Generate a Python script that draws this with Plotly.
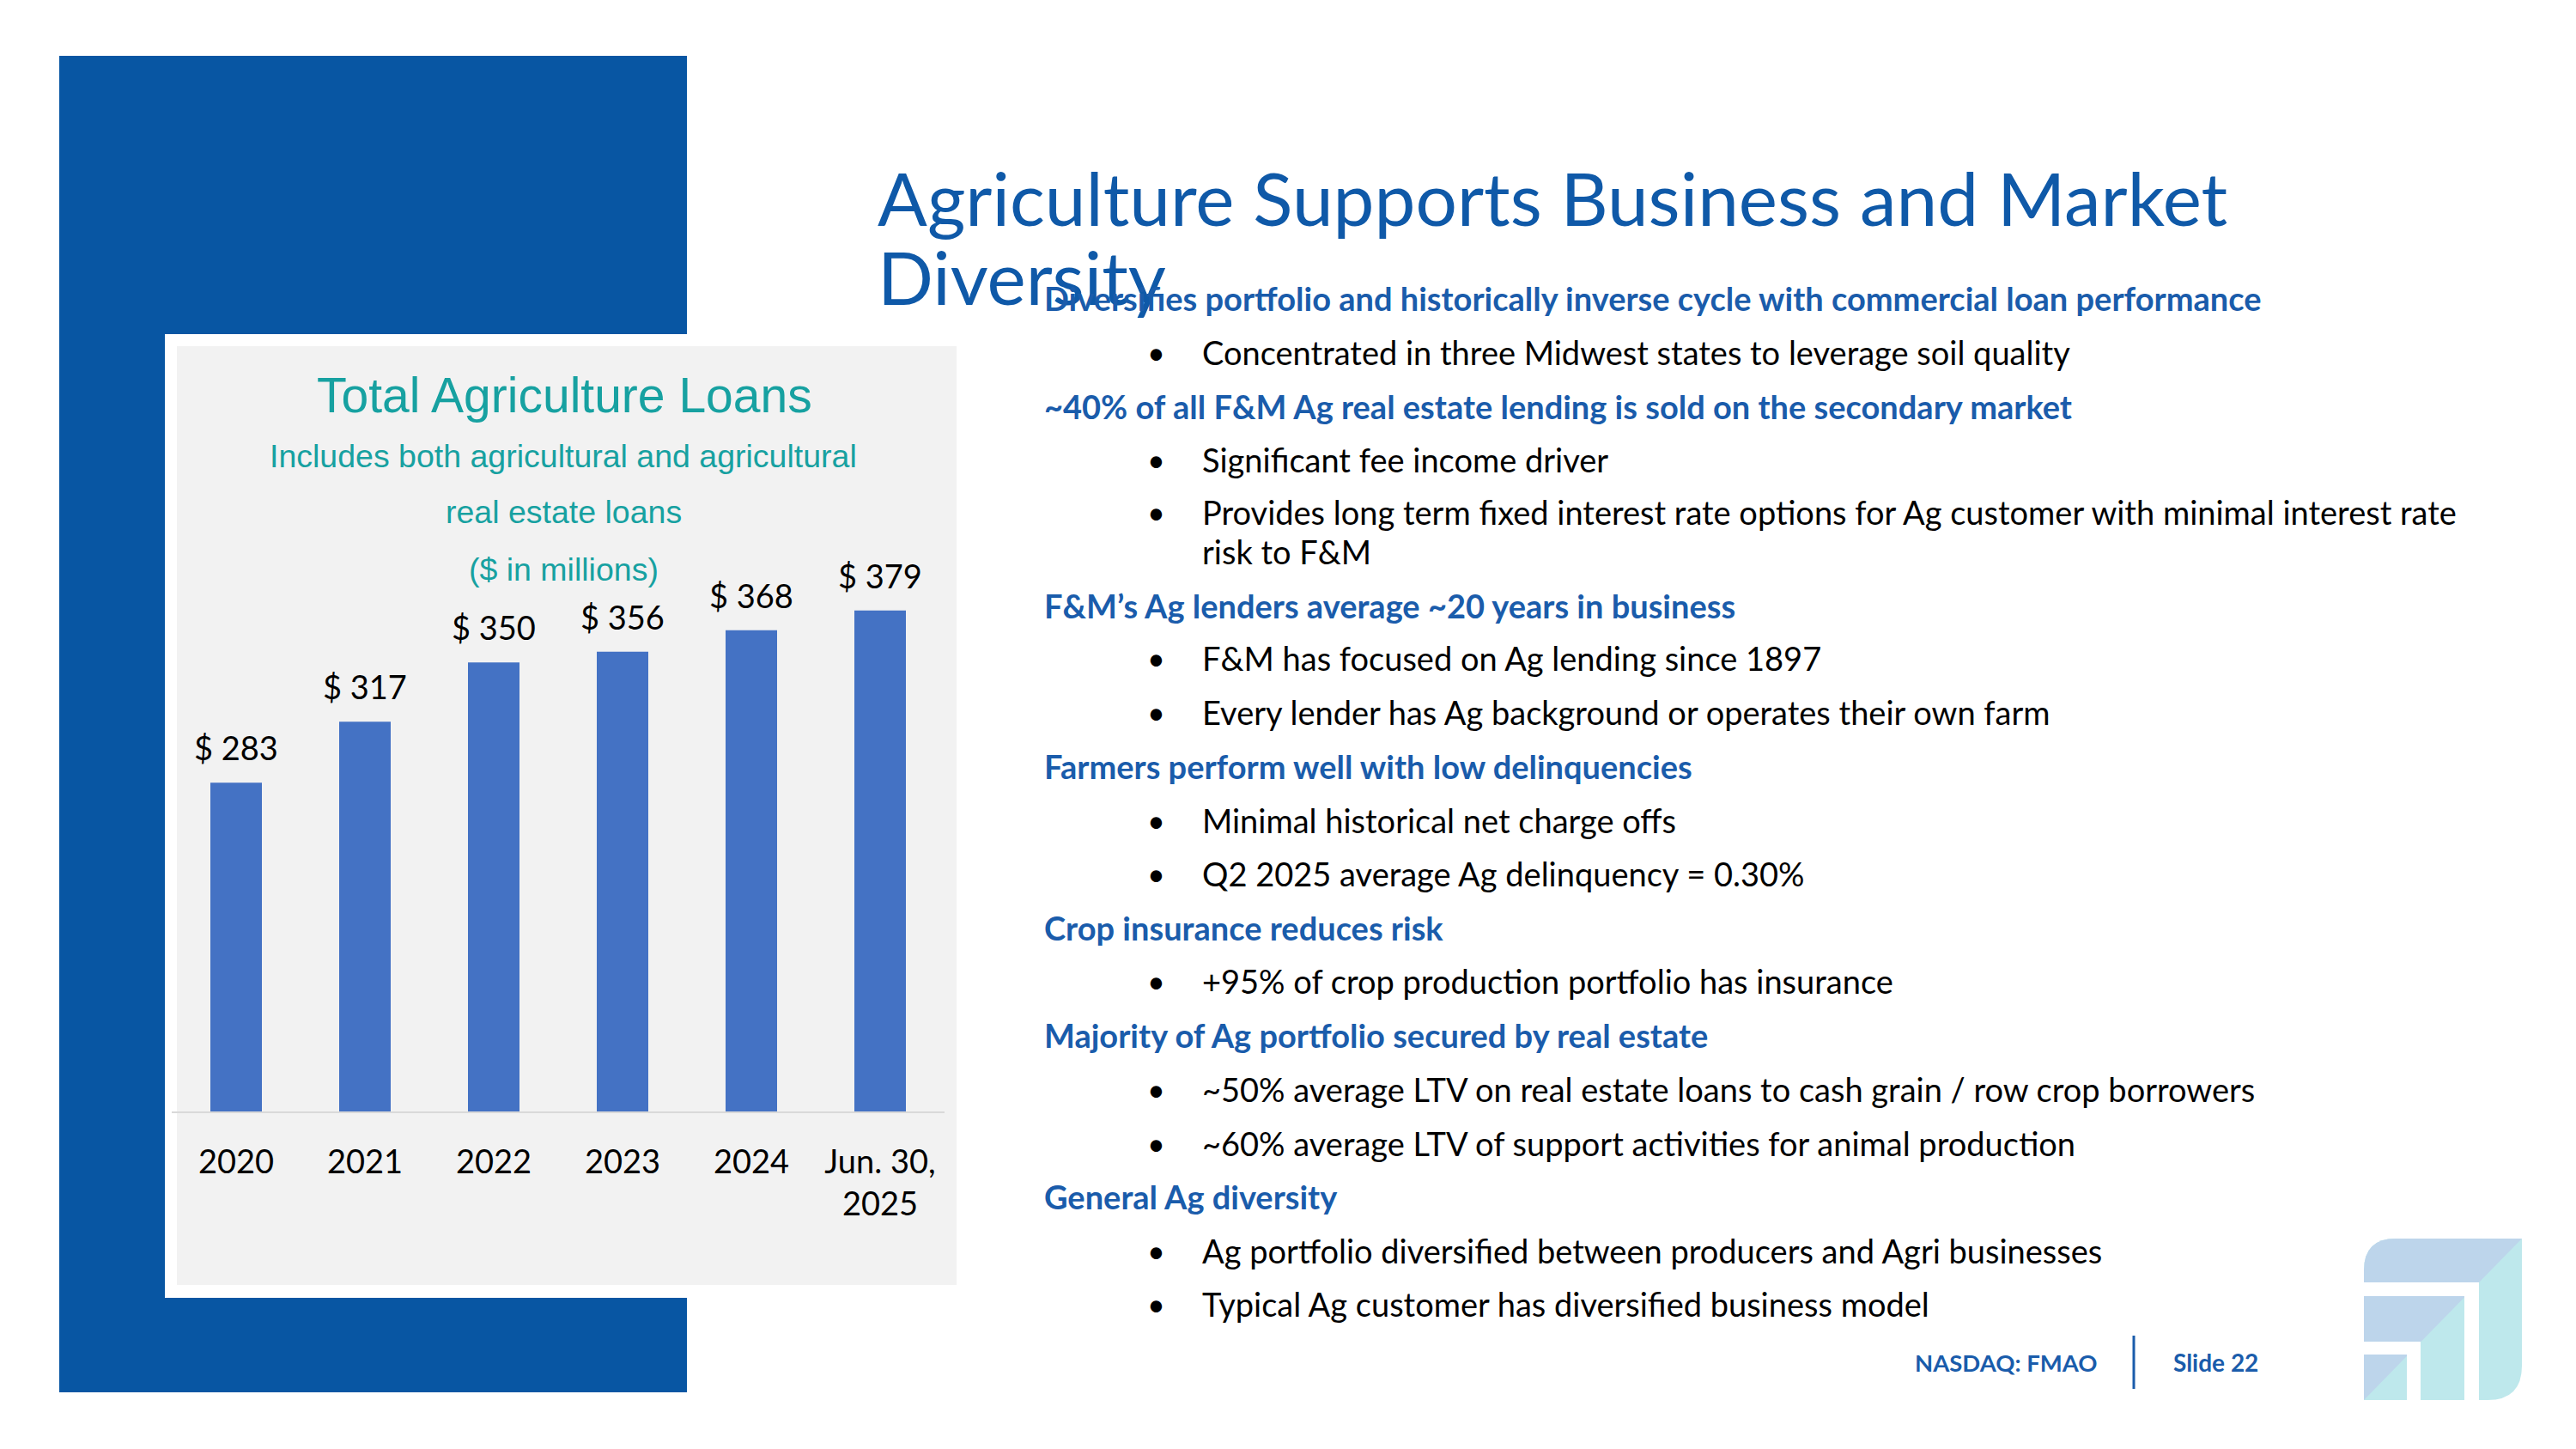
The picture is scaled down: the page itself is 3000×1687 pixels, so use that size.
import plotly.graph_objects as go

# ---------------- data ----------------
categories = ["2020", "2021", "2022", "2023", "2024", "Jun. 30, 2025"]
tick_labels = ["2020", "2021", "2022", "2023", "2024", "Jun. 30,<br>2025"]
loans = [283, 317, 350, 356, 368, 379]

chart_title = "Total Agriculture Loans"
chart_subtitles = ["Includes both agricultural and agricultural", "real estate loans", "($ in millions)"]

slide_title_lines = ["Agriculture Supports Business and Market", "Diversity"]
bullet_items = [
    ("h", "Diversifies portfolio and historically inverse cycle with commercial loan performance"),
    ("b", "Concentrated in three Midwest states to leverage soil quality"),
    ("h", "~40% of all F&M Ag real estate lending is sold on the secondary market"),
    ("b", "Significant fee income driver"),
    ("b", "Provides long term fixed interest rate options for Ag customer with minimal interest rate"),
    ("c", "risk to F&M"),
    ("h", "F&M’s Ag lenders average ~20 years in business"),
    ("b", "F&M has focused on Ag lending since 1897"),
    ("b", "Every lender has Ag background or operates their own farm"),
    ("h", "Farmers perform well with low delinquencies"),
    ("b", "Minimal historical net charge offs"),
    ("b", "Q2 2025 average Ag delinquency = 0.30%"),
    ("h", "Crop insurance reduces risk"),
    ("b", "+95% of crop production portfolio has insurance"),
    ("h", "Majority of Ag portfolio secured by real estate"),
    ("b", "~50% average LTV on real estate loans to cash grain / row crop borrowers"),
    ("b", "~60% average LTV of support activities for animal production"),
    ("h", "General Ag diversity"),
    ("b", "Ag portfolio diversified between producers and Agri businesses"),
    ("b", "Typical Ag customer has diversified business model"),
]
bullet_y = [347, 410, 473, 535, 596, 642, 705, 766, 829, 892, 955, 1017, 1080, 1142, 1205, 1268, 1331, 1393, 1456, 1518]
footer_left = "NASDAQ: FMAO"
footer_right = "Slide 22"

# ---------------- layout helpers ----------------
W, H = 3000, 1687
def X(px):
    return px / W
def Y(py):
    return 1 - py / H

BLUE = "#0856A3"
TITLE_BLUE = "#0F59A8"
HEAD_BLUE = "#1A5CAB"
TEAL = "#17A1A1"
BAR = "#4472C4"
LB = "#BDD5EB"
CY = "#BEE8EC"

fig = go.Figure()
fig.add_trace(go.Bar(
    x=categories, y=loans, marker_color=BAR, marker_line_width=0,
    cliponaxis=False, hoverinfo="skip",
))

shapes = []
def rect(x0, y0, x1, y1, color, layer="below"):
    shapes.append(dict(type="rect", xref="paper", yref="paper", x0=X(x0), x1=X(x1), y0=Y(y1), y1=Y(y0),
                       fillcolor=color, line=dict(width=0), layer=layer))
def path(pts_cmds, color, layer="above"):
    shapes.append(dict(type="path", xref="paper", yref="paper", path=pts_cmds,
                       fillcolor=color, line=dict(width=0), layer=layer))
def P(x, y):
    return f"{X(x):.6f},{Y(y):.6f}"

rect(69, 65, 800, 1621, BLUE)
rect(192, 389, 1134, 1511, "#FFFFFF")
rect(206, 403, 1114, 1496, "#F2F2F2")

# logo
L, R, T, B = 2753, 2937, 1442, 1630
r1, r2 = 37, 40
path(f"M {P(L, T + r1)} Q {P(L, T)} {P(L + r1, T)} L {P(R, T)} L {P(R, B - r2)} Q {P(R, B)} {P(R - r2, B)} L {P(L, B)} Z", CY)
path(f"M {P(L, B)} L {P(L, T + r1)} Q {P(L, T)} {P(L + r1, T)} L {P(R, T)} Z", LB)
rect(L - 2, 1493, 2887, 1509, "#FFFFFF", "above")
rect(2870, 1509, 2887, B + 2, "#FFFFFF", "above")
rect(L - 2, 1562, 2819, 1577, "#FFFFFF", "above")
rect(2803, 1577, 2819, B + 2, "#FFFFFF", "above")

# footer divider
shapes.append(dict(type="line", xref="paper", yref="paper", x0=X(2485), x1=X(2485), y0=Y(1555), y1=Y(1617),
                   line=dict(color=HEAD_BLUE, width=3)))

annotations = []
def txt(x, y, s, size, color, family="Lato", xanchor="left", bold=False):
    if bold:
        s = f"<b>{s}</b>"
    annotations.append(dict(x=X(x), y=Y(y), xref="paper", yref="paper", text=s, showarrow=False,
                            xanchor=xanchor, yanchor="middle", align="left",
                            font=dict(family=family, size=size, color=color)))

# bar value labels, placed in data coordinates (category index on the x axis)
for i, v in enumerate(loans):
    annotations.append(dict(x=i, y=v, xref="x", yref="y", text=f"$ {v}", showarrow=False,
                            xanchor="center", yanchor="bottom", yshift=16,
                            font=dict(family="Lato", size=38, color="#000000")))

# chart titles
txt(657, 460, chart_title, 57, TEAL, "Liberation Sans", "center")
for s, yy in zip(chart_subtitles, [531, 596, 663]):
    txt(656, yy, s, 37.5, TEAL, "Liberation Sans", "center")

# slide title
txt(1020, 230, slide_title_lines[0], 85.5, TITLE_BLUE)
txt(1020, 322, slide_title_lines[1], 85.5, TITLE_BLUE)

# bullets
for (kind, s), yy in zip(bullet_items, bullet_y):
    if kind == "h":
        txt(1214, yy, s, 38, HEAD_BLUE, bold=True)
    else:
        if kind == "b":
            txt(1346, yy, "•", 36, "#000000", xanchor="center")
        txt(1398, yy, s, 38, "#000000")

txt(2228, 1586, footer_left, 27.5, HEAD_BLUE, bold=True)
txt(2529, 1586, footer_right, 28, HEAD_BLUE, bold=True)

fig.update_layout(
    width=W, height=H, margin=dict(l=0, r=0, t=0, b=0),
    paper_bgcolor="#FFFFFF", plot_bgcolor="rgba(0,0,0,0)",
    showlegend=False, bargap=0.6,
    shapes=shapes, annotations=annotations,
    xaxis=dict(type="category", categoryorder="array", categoryarray=categories,
               range=[-0.5, len(categories) - 0.5],
               domain=[X(200), X(1100)], showline=True, linecolor="#D9D9D9", linewidth=2,
               showgrid=False, zeroline=False, ticks="outside", ticklen=24, tickcolor="rgba(0,0,0,0)",
               tickmode="array", tickvals=categories, ticktext=tick_labels,
               tickfont=dict(family="Lato", size=38, color="#000000")),
    yaxis=dict(domain=[Y(1294), Y(650)], range=[100, 408], visible=False, fixedrange=True),
)

fig.write_html("out.html", config={"displayModeBar": False},
               post_script="document.body.style.margin='0px';document.body.style.overflow='hidden';")
